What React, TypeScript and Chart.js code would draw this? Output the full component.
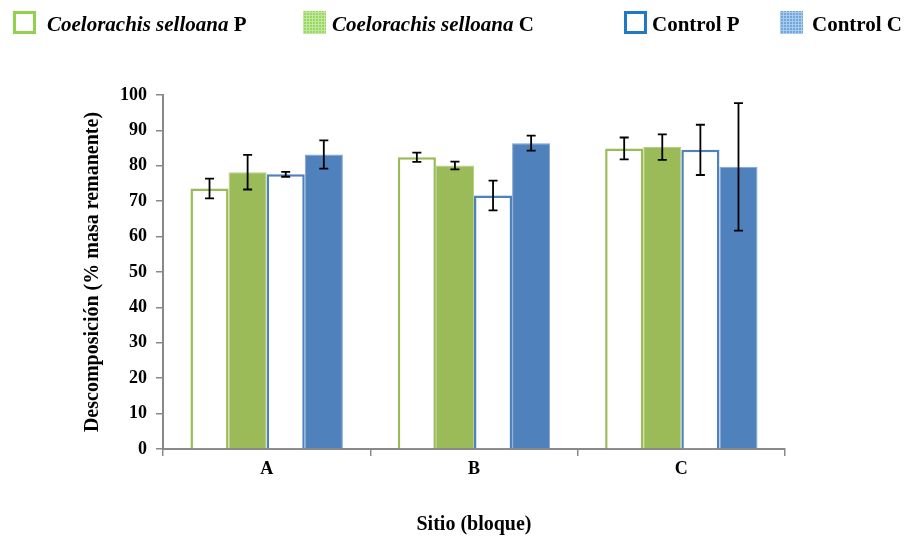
import React, { useEffect, useRef } from "react";
import { Chart, registerables } from "chart.js";

Chart.register(...registerables);

const categories = ["A", "B", "C"];
const csP = [73.6, 82.4, 84.9];
const csPErr = [2.8, 1.3, 3.1];
const csC = [78.2, 80.1, 85.3];
const csCErr = [4.9, 1.1, 3.6];
const ctrlP = [77.6, 71.6, 84.5];
const ctrlPErr = [0.7, 4.2, 7.1];
const ctrlC = [83.2, 86.4, 79.7];
const ctrlCErr = [4.0, 2.1, 18.0];
const errors = [csPErr, csCErr, ctrlPErr, ctrlCErr];

const GREEN = "#9BBB59";
const BLUE = "#4F81BD";
const AXIS = "#898989";
const FONT = "'Liberation Serif', 'Times New Roman', serif";

const errorBarPlugin = {
  id: "errorBars",
  afterDatasetsDraw(chart: any) {
    const ctx = chart.ctx;
    const yScale = chart.scales.y;
    ctx.save();
    ctx.strokeStyle = "#000";
    ctx.lineWidth = 1.8;
    chart.data.datasets.forEach((ds: any, di: number) => {
      const meta = chart.getDatasetMeta(di);
      meta.data.forEach((bar: any, i: number) => {
        const v = ds.data[i];
        const e = errors[di][i];
        const yHi = yScale.getPixelForValue(v + e);
        const yLo = yScale.getPixelForValue(v - e);
        const x = bar.x;
        const cap = 4.5;
        ctx.beginPath();
        ctx.moveTo(x, yHi);
        ctx.lineTo(x, yLo);
        ctx.moveTo(x - cap, yHi);
        ctx.lineTo(x + cap, yHi);
        ctx.moveTo(x - cap, yLo);
        ctx.lineTo(x + cap, yLo);
        ctx.stroke();
      });
    });
    ctx.restore();
  },
};

function LegendItem(props: { left: number; textLeft: number; box: React.CSSProperties; italic?: string; plain: string }) {
  return (
    <>
      <div style={{ position: "absolute", left: props.left, top: 11, width: 23, height: 23, boxSizing: "border-box", ...props.box }} />
      <div
        style={{
          position: "absolute",
          left: props.textLeft,
          top: 12,
          fontFamily: FONT,
          fontWeight: "bold",
          fontSize: 21,
          lineHeight: "24px",
          whiteSpace: "nowrap",
          color: "#000",
        }}
      >
        {props.italic ? <i>{props.italic}</i> : null}
        {props.plain}
      </div>
    </>
  );
}

export default function App() {
  const ref = useRef<HTMLCanvasElement>(null);

  useEffect(() => {
    if (!ref.current) return;
    const chart = new Chart(ref.current, {
      type: "bar",
      data: {
        labels: categories,
        datasets: [
          { label: "Coelorachis selloana P", data: csP, backgroundColor: "#FFFFFF", borderColor: GREEN, borderWidth: 2.5 },
          { label: "Coelorachis selloana C", data: csC, backgroundColor: GREEN, borderColor: "#B5CF86", borderWidth: 1 },
          { label: "Control P", data: ctrlP, backgroundColor: "#FFFFFF", borderColor: BLUE, borderWidth: 2.5 },
          { label: "Control C", data: ctrlC, backgroundColor: BLUE, borderColor: "#7FA2CF", borderWidth: 1 },
        ],
      },
      options: {
        responsive: false,
        animation: false,
        devicePixelRatio: 1,
        layout: { padding: { top: 95, right: 121, bottom: 0, left: 0 } },
        datasets: { bar: { categoryPercentage: 0.735, barPercentage: 1 } },
        plugins: {
          legend: { display: false },
          tooltip: { enabled: false },
        },
        scales: {
          x: {
            grid: { offset: true, drawOnChartArea: false, drawTicks: true, tickLength: 7, color: AXIS, lineWidth: 1.5 },
            border: { color: AXIS, width: 2 },
            ticks: { color: "#000", padding: 3, font: { family: FONT, size: 18, weight: "bold" } },
            title: {
              display: true,
              text: "Sitio (bloque)",
              color: "#000",
              padding: { top: 3, bottom: 0 },
              font: { family: FONT, size: 20, weight: "bold", lineHeight: 1.2 },
            },
            afterFit: (scale: any) => {
              scale.height = 88;
            },
          },
          y: {
            min: 0,
            max: 100,
            grid: { drawOnChartArea: false, drawTicks: true, tickLength: 7, color: AXIS, lineWidth: 1.5 },
            border: { color: AXIS, width: 2 },
            ticks: { stepSize: 10, color: "#000", padding: 9, font: { family: FONT, size: 18, weight: "bold" } },
            title: {
              display: true,
              text: "Descomposición (% masa remanente)",
              color: "#000",
              padding: { top: 81, bottom: 0 },
              font: { family: FONT, size: 20, weight: "bold", lineHeight: 1.2 },
            },
            afterFit: (scale: any) => {
              scale.width = 163;
            },
          },
        },
      },
      plugins: [errorBarPlugin],
    } as any);
    return () => chart.destroy();
  }, []);

  const grid = (c1: string, c2: string): React.CSSProperties => ({
    backgroundColor: c1,
    backgroundImage: `repeating-linear-gradient(0deg, ${c2} 0 1px, transparent 1px 3px), repeating-linear-gradient(90deg, ${c2} 0 1px, transparent 1px 3px)`,
  });

  return (
    <div style={{ position: "absolute", left: 0, top: 0, width: 906, height: 537, background: "#fff", overflow: "hidden" }}>
      <canvas ref={ref} width={906} height={537} style={{ position: "absolute", left: 0, top: 0 }} />
      <LegendItem left={13} textLeft={47} box={{ border: "3px solid #92D050", background: "#fff" }} italic="Coelorachis selloana" plain=" P" />
      <LegendItem left={303} textLeft={332} box={grid("#9BD65F", "#C2E7A0")} italic="Coelorachis selloana" plain=" C" />
      <LegendItem left={624} textLeft={652} box={{ border: "3px solid #1F78C8", background: "#fff" }} plain="Control P" />
      <LegendItem left={780} textLeft={812} box={grid("#6FA6DC", "#A9CBEC")} plain="Control C" />
    </div>
  );
}
